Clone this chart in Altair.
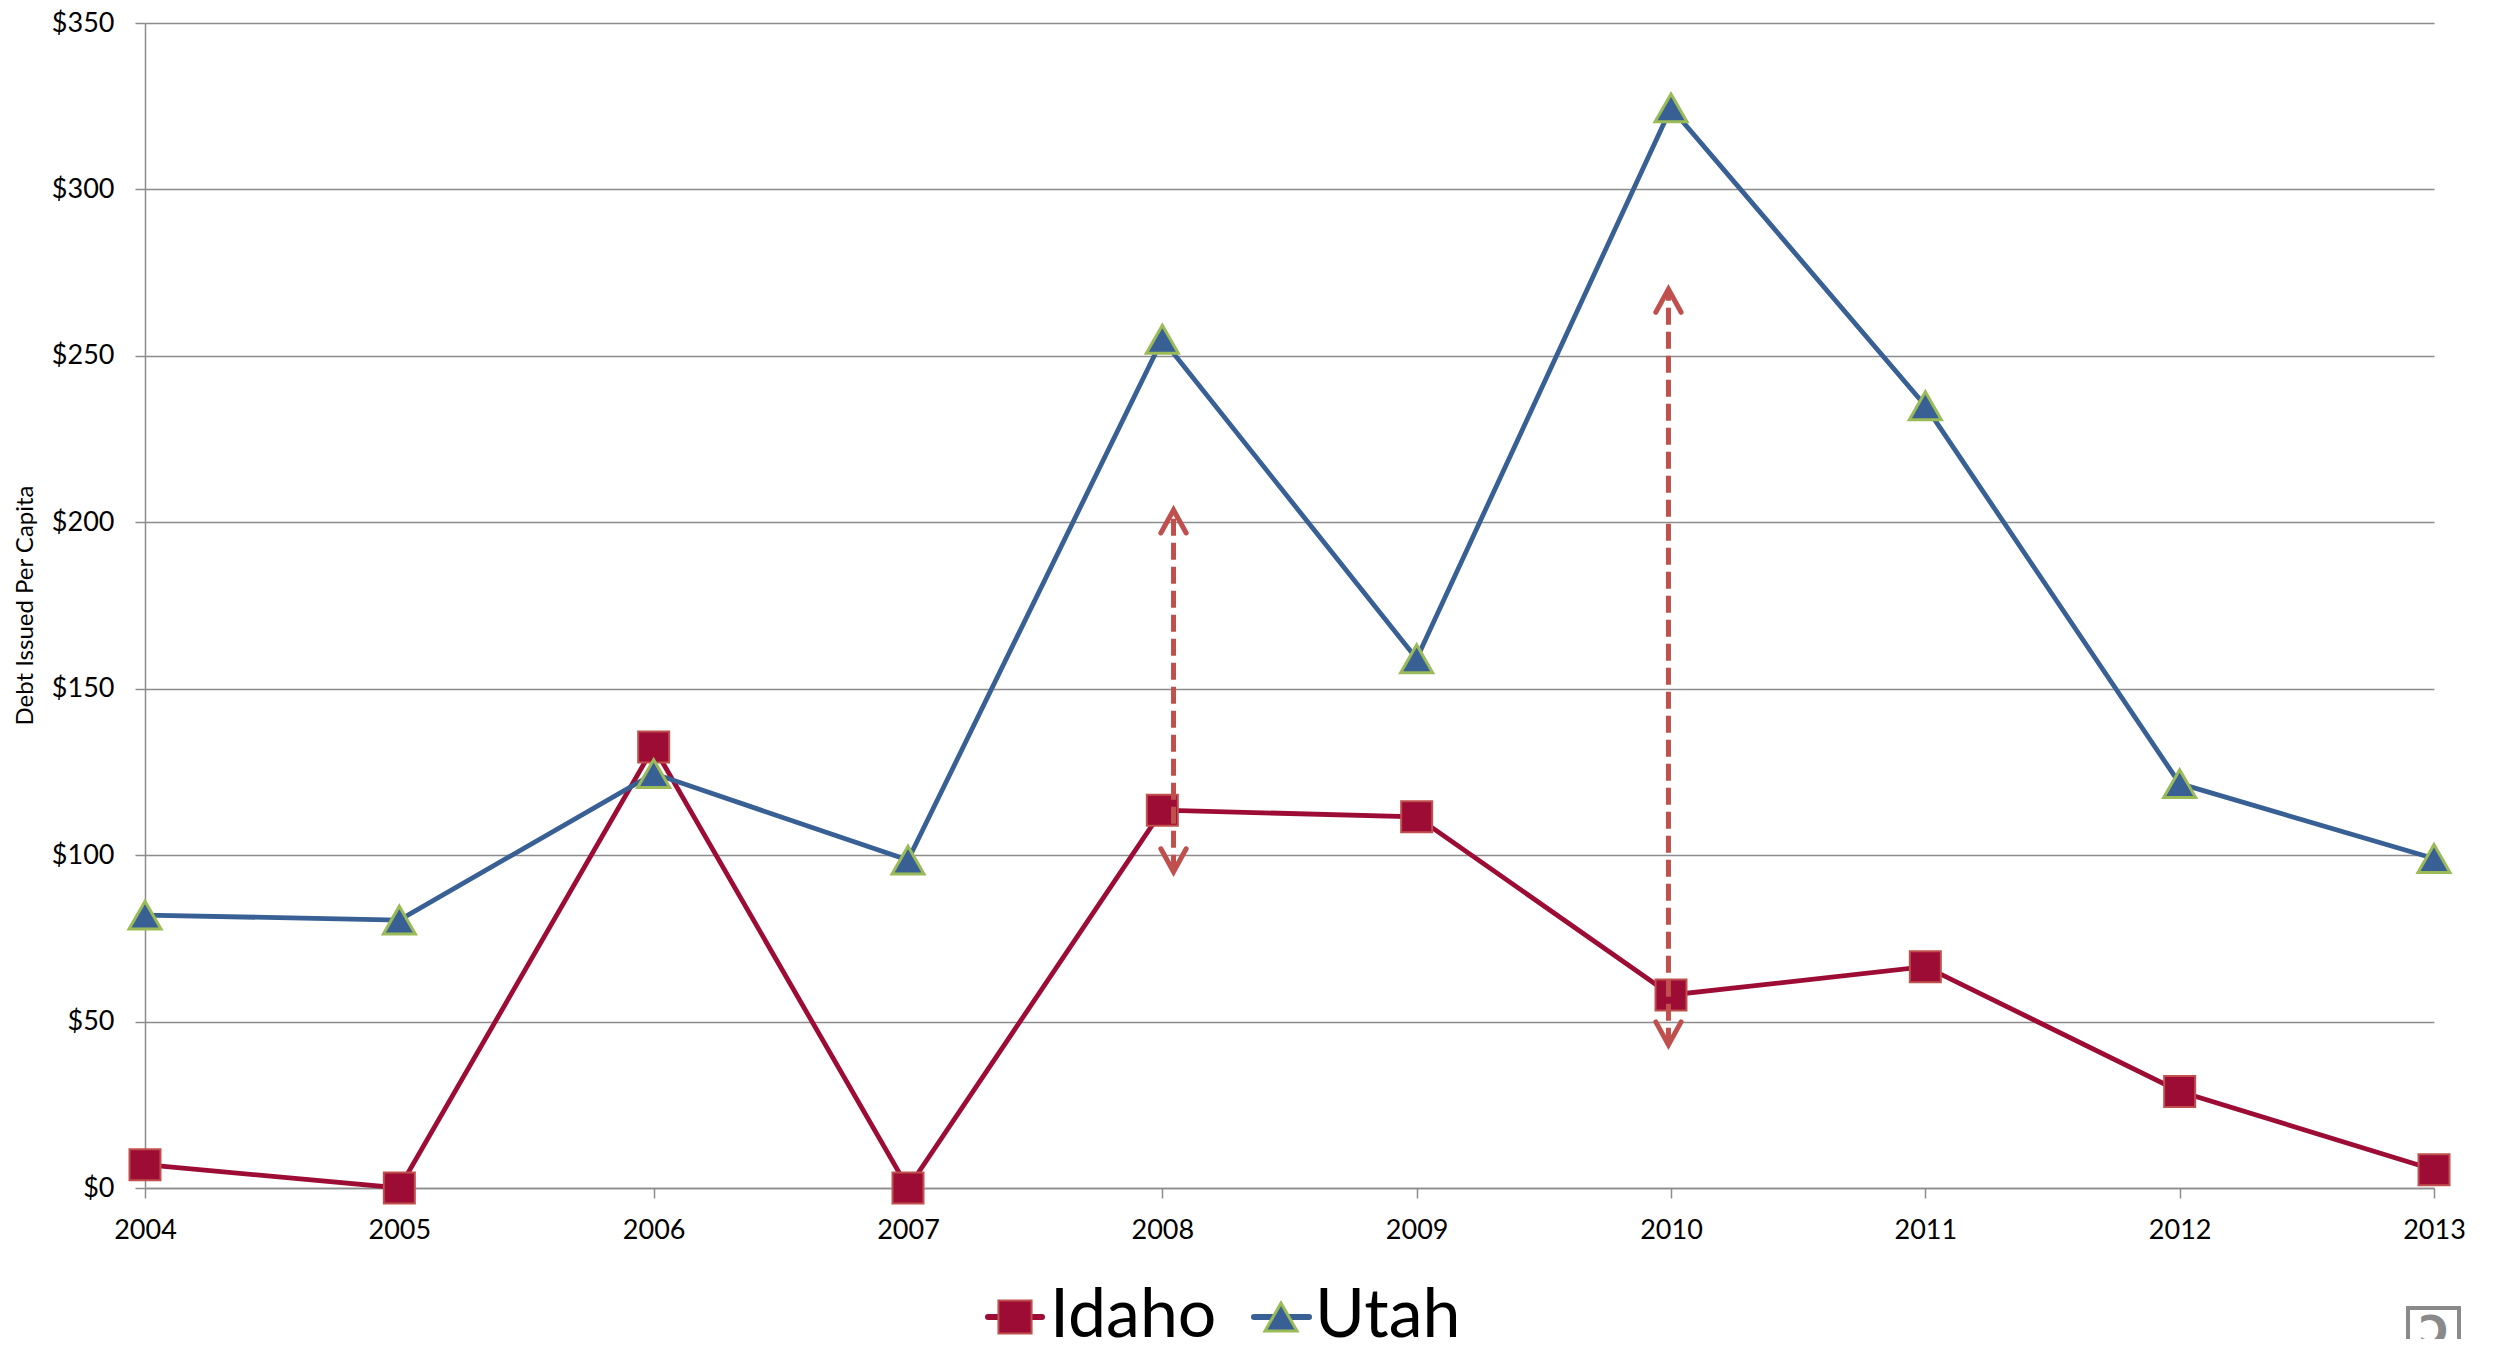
import altair as alt
import pandas as pd

# ---- data ----
years = [2004, 2005, 2006, 2007, 2008, 2009, 2010, 2011, 2012, 2013]
idaho = [7, 0, 132.5, 0, 113.5, 111.5, 58, 66.5, 29, 5.5]
utah = [82, 80.5, 124.5, 98.5, 255, 159, 324.5, 235, 121.5, 99]

# annotation arrows (x in years, low/high tips in dollars)
arrow_year = [2008.044, 2009.99]
arrow_low = [95, 43]
arrow_high = [203.7, 270]

y_ticks = [0, 50, 100, 150, 200, 250, 300, 350]
series_names = ["Idaho", "Utah"]
logo_text = ["Ɔ"]

# ---- styles ----
IDAHO = "#9C0C35"
IDAHO_EDGE = "#C0504D"
UTAH = "#386094"
UTAH_EDGE = "#9BBB59"
ARROW = "#C0504D"
GRID = "#8C8C8C"
FONT = "Lato"

idaho_df = pd.DataFrame({"Year": years, "Value": idaho})
utah_df = pd.DataFrame({"Year": years, "Value": utah})
arrow_df = pd.DataFrame({"Year": arrow_year, "Value": arrow_low, "High": arrow_high})

x_axis = alt.Axis(
    values=years, format="d", title="", grid=False,
    labelFont=FONT, labelFontSize=27, labelColor="black",
    labelFlush=False, labelOverlap=False, labelPadding=19,
    tickSize=10, tickColor=GRID, tickWidth=1.5,
    domainColor=GRID, domainWidth=1.5,
)
y_axis = alt.Axis(
    values=y_ticks, format="$.0f", title="Debt Issued Per Capita",
    grid=True, gridColor=GRID, gridWidth=1.5,
    labelFont=FONT, labelFontSize=27, labelColor="black", labelPadding=21,
    tickSize=10, tickColor=GRID, tickWidth=1.5,
    domainColor=GRID, domainWidth=1.5,
    titleFont=FONT, titleFontSize=24, titleFontWeight="normal", titleColor="black",
    titleX=-108, titleY=582, titleBaseline="bottom", titleAngle=270,
)

xs = alt.Scale(domain=[2004, 2013], nice=False, zero=False)
ys = alt.Scale(domain=[0, 350], nice=False)

X = alt.X("Year:Q", scale=xs, axis=x_axis)
Y = alt.Y("Value:Q", scale=ys, axis=y_axis)

tri_path = "M0,-0.87L1,0.87L-1,0.87Z"

idaho_line = alt.Chart(idaho_df).mark_line(color=IDAHO, strokeWidth=4.8).encode(x=X, y=Y)
idaho_pts = alt.Chart(idaho_df).mark_point(
    shape="square", filled=True, fill=IDAHO, stroke=IDAHO_EDGE, strokeWidth=2,
    size=960, opacity=1,
).encode(x=X, y=Y)
utah_line = alt.Chart(utah_df).mark_line(color=UTAH, strokeWidth=4.8).encode(x=X, y=Y)
utah_pts = alt.Chart(utah_df).mark_point(
    shape=tri_path, filled=True, fill=UTAH, stroke=UTAH_EDGE, strokeWidth=3,
    size=1024, opacity=1,
).encode(x=X, y=Y)

arrow_rule = alt.Chart(arrow_df).mark_rule(
    color=ARROW, strokeWidth=5, strokeDash=[17, 7]
).encode(x=X, y=Y, y2="High:Q")
arrow_top = alt.Chart(arrow_df).mark_point(
    shape="M-0.55,1L0,0L0.55,1", filled=False, stroke=ARROW, strokeWidth=5,
    size=2116, opacity=1, strokeCap="round", strokeJoin="miter",
).encode(x=X, y=alt.Y("High:Q", scale=ys))
arrow_bot = alt.Chart(arrow_df).mark_point(
    shape="M-0.55,-1L0,0L0.55,-1", filled=False, stroke=ARROW, strokeWidth=5,
    size=2116, opacity=1, strokeCap="round", strokeJoin="miter",
).encode(x=X, y=Y)

# ---- manual legend below the plot ----
leg_id = pd.DataFrame({"name": [series_names[0]]})
leg_ut = pd.DataFrame({"name": [series_names[1]]})
LEG_Y = 1294
TXT_Y = 1314
leg_layers = [
    alt.Chart(leg_id).mark_rule(color=IDAHO, strokeWidth=6, strokeCap="round").encode(
        x=alt.value(843), x2=alt.value(897), y=alt.value(LEG_Y)),
    alt.Chart(leg_id).mark_point(
        shape="square", filled=True, fill=IDAHO, stroke=IDAHO_EDGE,
        strokeWidth=2, size=1100, opacity=1).encode(x=alt.value(870), y=alt.value(LEG_Y)),
    alt.Chart(leg_id).mark_text(
        align="left", baseline="alphabetic", font=FONT, fontSize=68, color="black").encode(
        x=alt.value(905), y=alt.value(TXT_Y), text="name:N"),
    alt.Chart(leg_ut).mark_rule(color=UTAH, strokeWidth=6, strokeCap="round").encode(
        x=alt.value(1109), x2=alt.value(1164), y=alt.value(LEG_Y)),
    alt.Chart(leg_ut).mark_point(
        shape=tri_path, filled=True, fill=UTAH, stroke=UTAH_EDGE,
        strokeWidth=3, size=1024, opacity=1).encode(x=alt.value(1136), y=alt.value(LEG_Y)),
    alt.Chart(leg_ut).mark_text(
        align="left", baseline="alphabetic", font=FONT, fontSize=68, color="black").encode(
        x=alt.value(1170), y=alt.value(TXT_Y), text="name:N"),
]

# ---- small logo in the bottom-right corner ----
logo_df = pd.DataFrame({"t": logo_text})
logo_box = alt.Chart(logo_df).mark_rect(
    filled=False, stroke="#8A8A8A", strokeWidth=4).encode(
    x=alt.value(2263), x2=alt.value(2314), y=alt.value(1285), y2=alt.value(1345))
logo_glyph = alt.Chart(logo_df).mark_text(
    align="center", baseline="top", font="DejaVu Sans", fontWeight="bold",
    fontSize=40, color="#8A8A8A").encode(
    x=alt.value(2289), y=alt.value(1290), text="t:N")

chart = alt.layer(
    idaho_line, idaho_pts, utah_line, utah_pts,
    arrow_rule, arrow_top, arrow_bot,
    *leg_layers, logo_box, logo_glyph,
).properties(
    width=2289, height=1165,
    padding={"left": 137, "top": 15, "right": 56, "bottom": 151},
    autosize=alt.AutoSizeParams(type="none"),
    background="white",
).configure_view(strokeWidth=0)

chart.save("out.html", embed_options={"renderer": "svg", "actions": False})
